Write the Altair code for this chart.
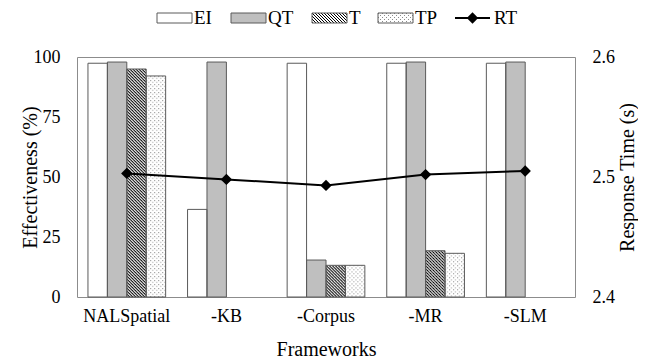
import altair as alt
import pandas as pd
from urllib.parse import quote

# ---------------- data ----------------
frameworks = ["NALSpatial", "-KB", "-Corpus", "-MR", "-SLM"]
series = ["EI", "QT", "T", "TP"]
ei = [97.4, 36.5, 97.4, 97.4, 97.4]
qt = [97.9, 97.9, 15.4, 97.9, 97.9]
t_vals = [95.0, 0.0, 13.2, 19.3, 0.0]
tp_vals = [92.1, 0.0, 13.2, 18.2, 0.0]
rt = [2.503, 2.498, 2.493, 2.502, 2.505]
left_ticks = [0, 25, 50, 75, 100]
right_ticks = [2.4, 2.5, 2.6]

rows = []
for name, vals in zip(series, [ei, qt, t_vals, tp_vals]):
    for f, v in zip(frameworks, vals):
        rows.append({"framework": f, "series": name, "value": v})
bars_df = pd.DataFrame(rows)
rt_df = pd.DataFrame({"framework": frameworks, "rt": rt})

FONT = "Liberation Serif"
STROKE = "#5a5a5a"

hatch_svg = ("<svg xmlns='http://www.w3.org/2000/svg' width='100%' height='100%'>"
             "<defs><pattern id='p' width='3' height='3' patternUnits='userSpaceOnUse'>"
             "<path d='M-1,-1L4,4M2,-1L4,1M-1,2L1,4' stroke='black' stroke-width='1'/>"
             "</pattern></defs><rect width='100%' height='100%' fill='white'/>"
             "<rect width='100%' height='100%' fill='url(#p)'/></svg>")
dots_svg = ("<svg xmlns='http://www.w3.org/2000/svg' width='100%' height='100%'>"
            "<defs><pattern id='d' width='4' height='4' patternUnits='userSpaceOnUse'>"
            "<rect x='0' y='0' width='1' height='1' fill='#8a8a8a'/>"
            "<rect x='2' y='2' width='1' height='1' fill='#8a8a8a'/>"
            "</pattern></defs><rect width='100%' height='100%' fill='white'/>"
            "<rect width='100%' height='100%' fill='url(#d)'/></svg>")


def uri(s):
    return "data:image/svg+xml," + quote(s)


HATCH = uri(hatch_svg)
DOTS = uri(dots_svg)

x_enc = alt.X("framework:N", sort=frameworks,
              scale=alt.Scale(paddingInner=0.22, paddingOuter=0.11),
              axis=alt.Axis(title="Frameworks", labelAngle=0, ticks=False, domain=False,
                            labelPadding=10, titlePadding=14))
xoff = alt.XOffset("series:N", sort=series,
                   scale=alt.Scale(domain=series, paddingInner=0, paddingOuter=0))
y_enc = alt.Y("value:Q", scale=alt.Scale(domain=[0, 100], nice=False),
              axis=alt.Axis(title="Effectiveness (%)", values=left_ticks, ticks=False,
                            domain=False, grid=False, labelPadding=17, titlePadding=-7))

base = alt.Chart(bars_df)

fill = base.mark_bar(strokeWidth=0).encode(
    x=x_enc, xOffset=xoff, y=y_enc,
    color=alt.Color("series:N", scale=alt.Scale(domain=series,
                    range=["white", "#bfbfbf", "white", "white"]), legend=None))

img_t = base.transform_filter("datum.series == 'T' && datum.value > 0").mark_image(
    aspect=False).encode(x=x_enc, xOffset=xoff, y=y_enc, y2=alt.datum(0),
                         url=alt.value(HATCH))
img_tp = base.transform_filter("datum.series == 'TP' && datum.value > 0").mark_image(
    aspect=False).encode(x=x_enc, xOffset=xoff, y=y_enc, y2=alt.datum(0),
                         url=alt.value(DOTS))

outline = base.transform_filter("datum.value > 0").mark_bar(
    fillOpacity=0, stroke=STROKE, strokeWidth=1).encode(x=x_enc, xOffset=xoff, y=y_enc)

# ---------------- manual legend ----------------
one = alt.Data(values=[{"k": 1}])
legend_layers = []
leg_items = [("EI", 80, "white", None), ("QT", 154, "#bfbfbf", None),
             ("T", 235, "white", HATCH), ("TP", 301, "white", DOTS)]
SY0, SY1, TY = -44, -34, -39
for label, lx, col, pat in leg_items:
    legend_layers.append(alt.Chart(one).mark_rect(fill=col, strokeWidth=0).encode(
        x=alt.value(lx), x2=alt.value(lx + 35), y=alt.value(SY0), y2=alt.value(SY1)))
    if pat:
        legend_layers.append(alt.Chart(one).mark_image(aspect=False).encode(
            x=alt.value(lx), x2=alt.value(lx + 35), y=alt.value(SY0), y2=alt.value(SY1),
            url=alt.value(pat)))
    legend_layers.append(alt.Chart(one).mark_rect(fillOpacity=0, stroke=STROKE, strokeWidth=1).encode(
        x=alt.value(lx), x2=alt.value(lx + 35), y=alt.value(SY0), y2=alt.value(SY1)))
    legend_layers.append(alt.Chart(one).mark_text(
        align="left", baseline="middle", font=FONT, fontSize=19, color="black").encode(
        x=alt.value(lx + 37), y=alt.value(TY), text=alt.value(label)))
legend_layers.append(alt.Chart(one).mark_rule(color="black", strokeWidth=2).encode(
    x=alt.value(378), x2=alt.value(413), y=alt.value(TY)))
legend_layers.append(alt.Chart(one).mark_point(
    shape="diamond", filled=True, size=130, color="black", opacity=1).encode(
    x=alt.value(395.5), y=alt.value(TY)))
legend_layers.append(alt.Chart(one).mark_text(
    align="left", baseline="middle", font=FONT, fontSize=19, color="black").encode(
    x=alt.value(417), y=alt.value(TY), text=alt.value("RT")))

bars_group = alt.layer(fill, img_t, img_tp, outline, *legend_layers)

line = alt.Chart(rt_df).mark_line(
    color="black", strokeWidth=2,
    point=alt.OverlayMarkDef(shape="diamond", filled=True, size=130, color="black", opacity=1)
).encode(
    x=x_enc,
    y=alt.Y("rt:Q", scale=alt.Scale(domain=[2.4, 2.6], nice=False, zero=False),
            axis=alt.Axis(orient="right", title="Response Time (s)", values=right_ticks,
                          format=".1f", ticks=False, domain=False, grid=False,
                          labelPadding=17, titlePadding=3, titleAngle=270,
                          titleBaseline="top")))

chart = alt.layer(bars_group, line).resolve_scale(y="independent").properties(
    width=498, height=240,
    padding={"left": 69, "top": 49, "right": 63, "bottom": 63},
    autosize=alt.AutoSizeParams(type="none"),
).configure(font=FONT).configure_view(stroke="#8c8c8c", strokeWidth=1).configure_axis(
    labelFont=FONT, labelFontSize=18, labelColor="black",
    titleFont=FONT, titleFontSize=20, titleFontWeight="normal", titleColor="black",
)

chart.save("out.html", embed_options={"renderer": "svg", "actions": False})
